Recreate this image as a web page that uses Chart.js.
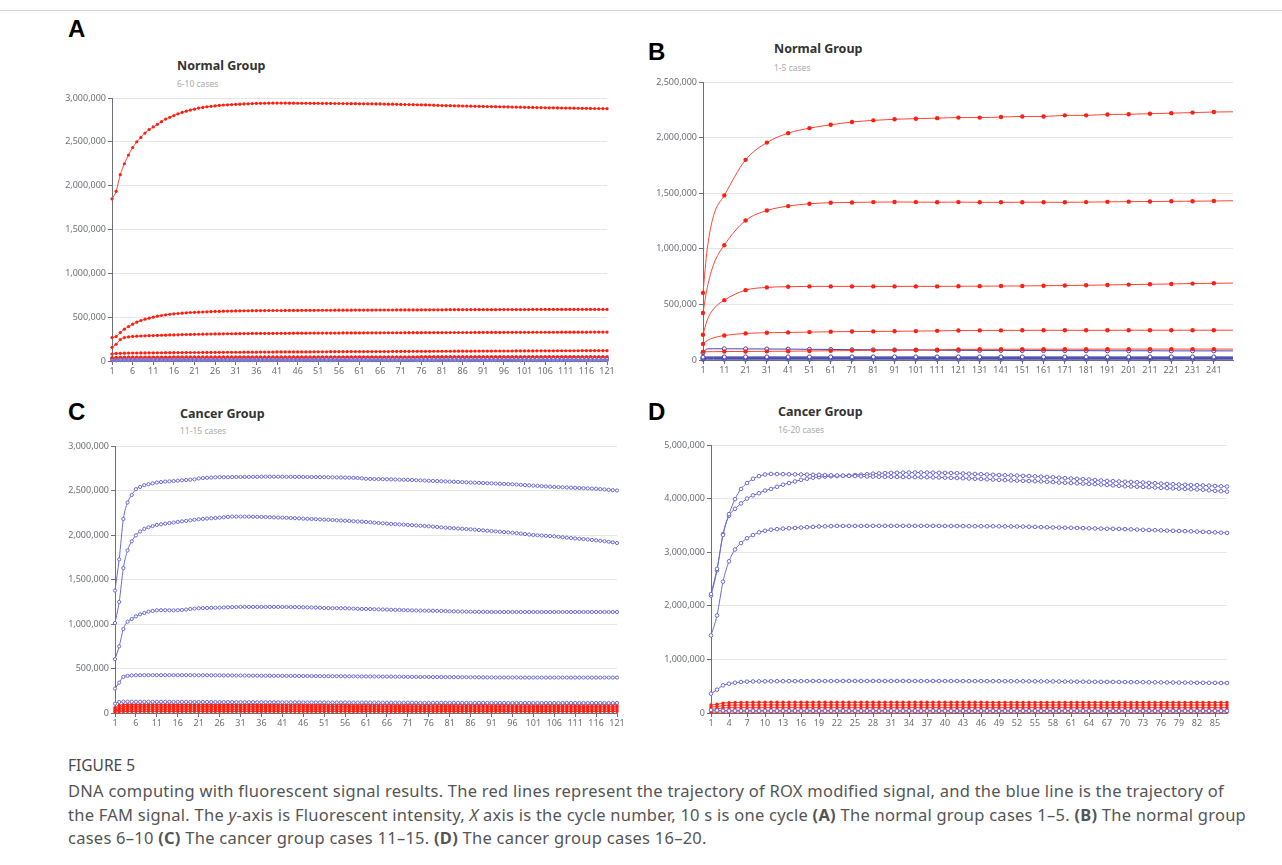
<!DOCTYPE html>
<html><head><meta charset="utf-8">
<script src="https://cdn.jsdelivr.net/npm/chart.js@4.4.1/dist/chart.umd.min.js"></script>
<style>
html,body{margin:0;padding:0;background:#fff;width:1282px;height:865px;overflow:hidden;font-family:"Noto Sans",sans-serif;}
.topline{position:absolute;left:0;top:10px;width:1282px;height:1px;background:#d6d6d6;}
canvas{position:absolute;}
.lbl{position:absolute;font-family:"Liberation Sans",Arial,sans-serif;font-weight:bold;font-size:24px;line-height:24px;color:#000;}
.ttl{position:absolute;font-weight:bold;font-size:12.5px;line-height:14px;color:#333;white-space:nowrap;}
.sub{position:absolute;font-size:8.5px;line-height:10px;color:#aaa;white-space:nowrap;}
.fig{position:absolute;left:68px;top:754px;font-size:15.5px;line-height:22px;color:#4a4a4a;}
.cap{position:absolute;left:68px;font-size:16.5px;line-height:20px;letter-spacing:0.25px;color:#555;white-space:nowrap;}
</style></head>
<body>
<div class="topline"></div>
<div class="lbl" style="left:68px;top:17px">A</div>
<div class="lbl" style="left:648px;top:40px">B</div>
<div class="lbl" style="left:68px;top:400px">C</div>
<div class="lbl" style="left:648px;top:400px">D</div>
<div class="ttl" style="left:177px;top:59px">Normal Group</div>
<div class="sub" style="left:177px;top:79px">6-10 cases</div>
<div class="ttl" style="left:774px;top:42px">Normal Group</div>
<div class="sub" style="left:774px;top:63px">1-5 cases</div>
<div class="ttl" style="left:180px;top:407px">Cancer Group</div>
<div class="sub" style="left:180px;top:426px">11-15 cases</div>
<div class="ttl" style="left:778px;top:405px">Cancer Group</div>
<div class="sub" style="left:778px;top:425px">16-20 cases</div>
<canvas id="cA"></canvas>
<canvas id="cB"></canvas>
<canvas id="cC"></canvas>
<canvas id="cD"></canvas>
<div class="fig">FIGURE 5</div>
<div class="cap" style="top:781px">DNA computing with fluorescent signal results. The red lines represent the trajectory of ROX modified signal, and the blue line is the trajectory of</div>
<div class="cap" style="top:805px">the FAM signal. The <i>y</i>-axis is Fluorescent intensity, <i>X</i> axis is the cycle number, 10 s is one cycle <b>(A)</b> The normal group cases 1–5. <b>(B)</b> The normal group</div>
<div class="cap" style="top:828px">cases 6–10 <b>(C)</b> The cancer group cases 11–15. <b>(D)</b> The cancer group cases 16–20.</div>
<script>
// ---- values are in thousands of fluorescence units ----
// Panel A (cycles 1..121)
const A_TICKS = [1,6,11,16,21,26,31,36,41,46,51,56,61,66,71,76,81,86,91,96,101,106,111,116,121];
const A_ROX1 = [1850,1935,2125,2250,2350,2435,2500,2550,2600,2640,
2670,2700,2730,2760,2780,2800,2820,2835,2850,2862,
2873,2885,2892,2900,2905,2910,2915,2920,2922,2925,
2928,2930,2932,2934,2936,2938,2939,2940,2941,2942,
2942,2942,2942,2941,2941,2940,2940,2940,2939,2939,
2939,2938,2938,2938,2937,2937,2936,2936,2935,2935,
2934,2934,2933,2933,2932,2932,2931,2930,2929,2928,
2927,2926,2925,2924,2923,2922,2921,2920,2918,2916,
2914,2913,2912,2911,2910,2909,2908,2907,2906,2905,
2904,2903,2902,2901,2900,2899,2898,2897,2896,2895,
2894,2893,2892,2891,2890,2889,2888,2888,2887,2886,
2885,2885,2884,2883,2882,2882,2881,2880,2880,2879,2878];
const A_ROX2 = [267,279,324,363,393,420,443,462,477,489,
500,511,519,527,533,538,542,546,550,553,
555,557,559,561,563,565,566,568,569,570,
571,572,573,573,574,574,575,575,576,576,
576,576,577,577,577,577,578,578,578,578,
579,579,579,579,580,580,580,580,580,581,
581,581,581,581,582,582,582,582,582,583,
583,583,583,583,583,584,584,584,584,584,
584,585,585,585,585,585,585,586,586,586,
586,586,586,586,587,587,587,587,587,587,
587,587,588,588,588,588,588,588,588,588,
588,588,588,588,588,588,588,588,588,588,588];
const A_ROX3 = [156,191,244,267,275,280,283,285,287,289,
290,292,294,295,297,298,299,301,302,303,
304,305,306,307,308,309,309,310,311,311,
312,312,313,313,314,314,314,315,315,315,
316,316,316,316,317,317,317,317,318,318,
318,318,319,319,319,319,320,320,320,320,
320,321,321,321,321,321,322,322,322,322,
322,323,323,323,323,323,324,324,324,324,
324,324,325,325,325,325,325,325,326,326,
326,326,326,326,326,327,327,327,327,327,
327,327,328,328,328,328,328,328,328,329,
329,329,329,329,329,329,330,330,330,330,330];
const A_ROX4 = [80,86,88,89,90,91,91,92,92,93,
93,94,94,95,95,95,96,96,96,97,
97,97,98,98,98,99,99,99,100,100,
100,100,101,101,101,101,102,102,102,102,
103,103,103,103,104,104,104,104,104,105,
105,105,105,106,106,106,106,106,107,107,
107,107,107,108,108,108,108,108,109,109,
109,109,109,110,110,110,110,110,111,111,
111,111,111,112,112,112,112,112,113,113,
113,113,113,114,114,114,114,114,115,115,
115,115,115,116,116,116,116,116,117,117,
117,117,117,117,118,118,118,118,118,118,118];
const A_ROX5 = [38,42,44,44,45,45,45,45,45,45,
45,45,45,45,45,46,46,46,46,46,
46,46,46,46,46,46,46,46,46,46,
47,47,47,47,47,47,47,47,47,47,
47,47,47,47,47,47,47,47,47,47,
48,48,48,48,48,48,48,48,48,48,
48,48,48,48,48,48,48,48,48,48,
48,48,48,48,48,49,49,49,49,49,
49,49,49,49,49,49,49,49,49,49,
49,49,49,49,49,49,49,49,49,49,
50,50,50,50,50,50,50,50,50,50,
50,50,50,50,50,50,50,50,50,50,50];
const A_FAM1 = [28,33,35,36,36,36,36,36,36,36,
36,36,36,36,36,36,36,36,36,36,
36,36,36,36,36,36,36,36,36,36,
36,36,36,36,36,36,36,36,36,36,
36,36,36,36,36,36,36,36,36,36,
36,36,35,35,35,35,35,35,35,35,
35,35,35,35,35,35,35,35,35,35,
35,35,35,35,35,35,35,35,35,35,
35,35,35,35,35,35,35,35,35,35,
34,34,34,34,34,34,34,34,34,34,
34,34,34,34,34,34,34,34,34,34,
34,34,34,34,34,34,34,34,34,34,34];
const A_FAM2 = [22,27,29,29,29,29,29,29,29,29,
29,29,29,29,29,29,29,29,29,29,
29,29,29,29,29,29,29,29,29,29,
29,29,29,29,29,29,29,29,29,29,
29,29,29,29,29,29,29,29,29,29,
29,29,29,29,29,28,28,28,28,28,
28,28,28,28,28,28,28,28,28,28,
28,28,28,28,28,28,28,28,28,28,
28,28,28,28,28,28,28,28,28,28,
28,28,28,28,28,28,28,28,28,28,
27,27,27,27,27,27,27,27,27,27,
27,27,27,27,27,27,27,27,27,27,27];
const A_FAM3 = [16,20,22,22,22,22,22,22,22,22,
22,22,22,22,22,22,22,22,22,22,
22,22,22,22,22,22,22,22,22,22,
22,22,22,22,22,22,22,22,22,22,
22,22,22,22,22,22,22,22,22,22,
22,22,22,22,22,22,22,22,21,21,
21,21,21,21,21,21,21,21,21,21,
21,21,21,21,21,21,21,21,21,21,
21,21,21,21,21,21,21,21,21,21,
21,21,21,21,21,21,21,21,21,21,
21,21,21,21,21,21,21,21,21,21,
21,21,21,21,21,21,21,21,21,21,21];
const A_FAM4 = [11,13,15,15,15,15,15,15,15,15,
15,15,15,15,15,15,15,15,15,15,
15,15,15,15,15,15,15,15,15,15,
15,15,15,15,15,15,15,15,15,15,
15,15,15,15,15,15,15,15,15,15,
15,15,15,15,15,15,15,15,15,15,
14,14,14,14,14,14,14,14,14,14,
14,14,14,14,14,14,14,14,14,14,
14,14,14,14,14,14,14,14,14,14,
14,14,14,14,14,14,14,14,14,14,
14,14,14,14,14,14,14,14,14,14,
14,14,14,14,14,14,14,14,14,14,14];
const A_FAM5 = [6,7,8,8,8,8,8,8,8,8,
8,8,8,8,8,8,8,8,8,8,
8,8,8,8,8,8,8,8,8,8,
8,8,8,8,8,8,8,8,8,8,
8,8,8,8,8,8,8,8,8,8,
8,8,8,8,8,8,8,8,8,8,
8,8,8,8,8,8,8,8,8,8,
8,8,8,8,8,8,8,8,8,8,
8,8,8,8,8,8,8,8,8,8,
8,8,8,8,8,8,8,8,8,8,
8,8,8,8,8,8,8,8,8,8,
8,8,8,8,8,8,8,8,8,8,8];

// Panel B (sampled cycles; dots at every 10th cycle)
const B_TICKS = [1,11,21,31,41,51,61,71,81,91,101,111,121,131,141,151,161,171,181,191,201,211,221,231,241];
const B_CYCLES = [1,3,6,11,21,31,41,51,61,71,81,91,101,111,121,131,141,151,161,171,181,191,201,211,221,231,241,250];
const B_ROX1 = [604,1000,1300,1480,1800,1955,2040,2085,2115,2140,2155,2165,2170,2175,2180,2180,2185,2190,2190,2200,2200,2208,2210,2215,2220,2225,2230,2232];
const B_ROX2 = [423,650,860,1033,1254,1344,1384,1405,1414,1417,1420,1421,1420,1419,1420,1418,1418,1419,1419,1418,1420,1422,1424,1425,1427,1428,1430,1432];
const B_ROX3 = [227,360,460,538,628,653,659,662,662,662,662,662,662,662,663,664,665,666,668,670,672,675,678,681,684,687,690,692];
const B_ROX4 = [145,175,200,220,239,245,248,251,254,256,257,258,260,262,265,266,266,267,267,267,267,267,268,268,268,268,268,268];
const B_ROX5 = [75,75,75,76,77,78,79,81,83,85,87,88,90,92,95,96,96,97,97,97,97,98,98,98,98,98,98,98];
const B_FAM1 = [65,100,101,101,100,99,98,96,95,93,92,91,90,88,87,86,86,85,85,84,84,83,83,83,82,82,82,82];
const B_FAM2 = [26,28,28,28,28,28,28,28,28,28,28,28,28,28,28,28,28,28,28,28,28,28,28,28,28,28,28,28];
const B_FAM3 = [19,21,21,21,21,21,21,21,21,21,21,21,21,21,21,21,21,21,21,21,21,21,21,21,21,21,21,21];
const B_FAM4 = [13,14,14,14,14,14,14,14,14,14,14,14,14,14,14,14,14,14,14,14,14,14,14,14,14,14,14,14];
const B_FAM5 = [6,7,7,7,7,7,7,7,7,7,7,7,7,7,7,7,7,7,7,7,7,7,7,7,7,7,7,7];

// Panel C (cycles 1..121)
const C_TICKS = [1,6,11,16,21,26,31,36,41,46,51,56,61,66,71,76,81,86,91,96,101,106,111,116,121];
const C_FAM1 = [1376,1726,2180,2365,2450,2515,2540,2560,2570,2580,
2590,2595,2600,2603,2606,2610,2614,2618,2622,2625,
2635,2640,2643,2645,2648,2650,2650,2650,2651,2652,
2652,2653,2653,2654,2654,2655,2655,2655,2655,2655,
2655,2654,2654,2653,2653,2652,2652,2651,2651,2650,
2650,2649,2648,2647,2646,2645,2644,2642,2640,2637,
2632,2630,2629,2628,2627,2626,2625,2624,2622,2621,
2620,2618,2616,2614,2612,2610,2608,2606,2604,2602,
2600,2598,2596,2594,2592,2590,2588,2586,2584,2582,
2580,2578,2576,2574,2572,2570,2567,2564,2561,2558,
2555,2552,2549,2546,2543,2540,2538,2536,2534,2532,
2530,2528,2526,2524,2522,2520,2516,2512,2508,2504,2500];
const C_FAM2 = [1011,1248,1628,1827,1929,1996,2040,2068,2086,2100,
2113,2120,2128,2134,2140,2147,2153,2159,2165,2171,
2177,2181,2185,2188,2191,2195,2199,2203,2207,2207,
2207,2207,2206,2205,2204,2203,2202,2200,2198,2196,
2195,2193,2191,2189,2187,2184,2182,2180,2178,2175,
2173,2171,2168,2166,2163,2160,2158,2155,2152,2150,
2147,2143,2139,2135,2131,2128,2125,2122,2119,2116,
2113,2110,2107,2104,2101,2098,2094,2090,2086,2082,
2079,2076,2073,2070,2067,2064,2060,2056,2052,2048,
2045,2041,2037,2033,2029,2026,2021,2016,2011,2005,
2000,1997,1994,1991,1988,1985,1980,1975,1970,1966,
1962,1958,1954,1950,1945,1940,1935,1930,1924,1918,1910];
const C_FAM3 = [605,748,944,1026,1056,1086,1109,1124,1139,1147,
1154,1155,1155,1154,1153,1155,1158,1162,1169,1173,
1177,1179,1180,1182,1183,1184,1186,1188,1190,1191,
1192,1192,1192,1192,1192,1192,1192,1192,1192,1192,
1192,1191,1191,1190,1189,1188,1187,1186,1185,1183,
1180,1179,1178,1178,1177,1177,1175,1173,1171,1169,
1169,1168,1166,1164,1163,1162,1160,1159,1158,1156,
1154,1153,1152,1151,1150,1150,1149,1148,1147,1145,
1143,1142,1141,1140,1139,1138,1137,1137,1136,1136,
1135,1135,1135,1135,1135,1135,1135,1135,1135,1135,
1135,1135,1135,1135,1135,1135,1135,1135,1135,1135,
1135,1135,1135,1135,1135,1135,1135,1135,1135,1135,1135];
const C_FAM4 = [274,342,406,417,422,424,425,425,425,425,
425,425,425,425,425,425,425,425,425,425,
424,424,424,423,423,423,422,422,422,421,
421,421,420,420,420,419,419,419,418,418,
418,417,417,417,416,416,416,415,415,414,
414,414,413,413,413,412,412,412,411,411,
411,410,410,410,409,409,409,408,408,407,
406,406,406,405,405,405,404,404,404,403,
403,403,402,402,402,401,401,401,400,400,
400,399,399,399,399,399,399,398,398,398,
398,398,398,398,398,398,398,398,398,398,
398,398,398,398,398,398,398,398,398,398,398];
const C_FAM5 = [105,124,128,128,127,127,127,127,127,126,
126,126,126,126,125,125,125,125,125,124,
124,124,124,124,123,123,123,123,123,122,
122,122,122,122,121,121,121,121,121,120,
120,120,120,120,120,119,119,119,119,119,
119,118,118,118,118,118,118,117,117,117,
117,117,117,117,116,116,116,116,116,116,
116,116,115,115,115,115,115,115,115,115,
115,115,114,114,114,114,114,114,114,114,
114,114,114,114,113,113,113,113,113,113,
113,113,113,113,113,113,113,113,113,113,
113,113,113,113,113,113,113,113,113,113,113];
const C_ROX1 = [62,86,93,96,97,97,97,97,97,97,
97,97,97,97,97,97,97,97,97,97,
97,97,97,97,97,97,97,97,97,97,
97,97,97,97,97,97,97,97,97,97,
97,97,97,97,97,96,96,96,96,96,
96,96,96,96,96,96,96,96,96,96,
96,96,96,96,96,96,96,96,96,96,
96,96,96,96,96,96,96,96,96,96,
95,95,95,95,95,95,95,95,95,95,
95,95,95,95,95,95,95,95,95,95,
95,95,95,95,95,95,95,95,95,95,
95,95,95,95,95,95,95,95,95,95,95];
const C_ROX2 = [46,66,73,76,77,77,77,77,77,77,
77,77,77,77,77,77,77,77,77,77,
77,77,77,77,77,77,77,77,77,77,
77,77,77,77,77,77,77,77,77,77,
77,77,77,77,77,77,77,77,77,77,
76,76,76,76,76,76,76,76,76,76,
76,76,76,76,76,76,76,76,76,76,
76,76,76,76,76,76,76,76,76,76,
76,76,76,76,76,76,76,76,76,76,
75,75,75,75,75,75,75,75,75,75,
75,75,75,75,75,75,75,75,75,75,
75,75,75,75,75,75,75,75,75,75,75];
const C_ROX3 = [34,48,54,56,57,57,57,57,57,57,
57,57,57,57,57,57,57,57,57,57,
57,57,57,57,57,57,57,57,57,57,
57,57,57,57,57,57,57,57,57,57,
57,57,57,57,57,57,57,57,57,57,
57,57,57,57,57,57,57,57,57,57,
56,56,56,56,56,56,56,56,56,56,
56,56,56,56,56,56,56,56,56,56,
56,56,56,56,56,56,56,56,56,56,
56,56,56,56,56,56,56,56,56,56,
56,56,56,56,56,56,56,56,56,56,
56,56,56,56,56,56,56,56,56,56,56];
const C_ROX4 = [22,31,35,36,37,37,37,37,37,37,
37,37,37,37,37,37,37,37,37,37,
37,37,37,37,37,37,37,37,37,37,
37,37,37,37,37,37,37,37,37,37,
37,37,37,37,37,37,37,37,37,37,
37,37,37,37,37,37,37,37,37,37,
37,37,37,37,37,37,37,37,37,37,
37,37,37,37,37,37,37,37,37,37,
36,36,36,36,36,36,36,36,36,36,
36,36,36,36,36,36,36,36,36,36,
36,36,36,36,36,36,36,36,36,36,
36,36,36,36,36,36,36,36,36,36,36];
const C_ROX5 = [10,14,16,17,17,17,17,17,17,17,
17,17,17,17,17,17,17,17,17,17,
17,17,17,17,17,17,17,17,17,17,
17,17,17,17,17,17,17,17,17,17,
17,17,17,17,17,17,17,17,17,17,
17,17,17,17,17,17,17,17,17,17,
17,17,17,17,17,17,17,17,17,17,
17,17,17,17,17,17,17,17,17,17,
17,17,17,17,17,17,17,17,17,17,
17,17,17,17,17,17,17,17,17,17,
17,17,17,17,17,17,17,17,17,17,
17,17,17,17,17,17,17,17,17,17,17];

// Panel D (cycles 1..87)
const D_TICKS = [1,4,7,10,13,16,19,22,25,28,31,34,37,40,43,46,49,52,55,58,61,64,67,70,73,76,79,82,85];
const D_FAM1 = [2220,2690,3320,3710,3990,4180,4290,4370,4420,4450,
4460,4458,4456,4454,4452,4450,4448,4446,4444,4440,
4436,4432,4428,4424,4420,4416,4412,4410,4408,4406,
4405,4404,4402,4401,4400,4399,4398,4396,4394,4390,
4387,4384,4380,4375,4370,4365,4360,4355,4350,4345,
4340,4336,4332,4328,4324,4320,4314,4307,4300,4295,
4290,4285,4280,4275,4270,4262,4254,4246,4238,4230,
4226,4222,4218,4212,4206,4200,4195,4190,4185,4180,
4175,4170,4165,4155,4145,4138,4130];
const D_FAM2 = [2190,2660,3340,3680,3810,3910,4000,4060,4100,4150,
4180,4220,4260,4290,4320,4350,4370,4390,4400,4410,
4415,4420,4425,4430,4440,4447,4455,4465,4470,4475,
4480,4482,4484,4486,4487,4487,4486,4484,4482,4480,
4477,4473,4468,4464,4460,4455,4450,4445,4440,4435,
4432,4430,4425,4420,4415,4410,4404,4398,4390,4382,
4375,4368,4362,4355,4347,4338,4330,4325,4320,4315,
4310,4305,4300,4294,4287,4280,4274,4268,4262,4258,
4254,4250,4246,4242,4236,4230,4225];
const D_FAM3 = [1447,1820,2450,2830,3050,3170,3260,3320,3370,3400,
3420,3430,3440,3447,3453,3460,3467,3473,3480,3483,
3486,3490,3490,3490,3490,3490,3491,3492,3492,3492,
3492,3492,3492,3492,3492,3492,3492,3492,3491,3490,
3489,3488,3487,3486,3485,3485,3484,3484,3483,3482,
3481,3480,3478,3475,3472,3468,3465,3462,3460,3457,
3455,3452,3449,3446,3443,3440,3438,3436,3434,3430,
3426,3422,3418,3414,3410,3407,3403,3400,3396,3393,
3389,3385,3380,3375,3370,3365,3360];
const D_FAM4 = [360,435,516,547,565,578,585,588,590,591,
592,593,593,594,594,595,595,596,596,596,
596,596,597,597,597,597,597,597,597,597,
597,597,597,597,597,596,596,596,596,596,
596,596,595,595,595,595,594,594,594,593,
593,592,592,591,591,590,590,589,588,587,
586,585,584,583,582,581,580,579,578,577,
576,575,574,573,572,571,570,569,568,567,
566,565,564,563,562,560,559];
const D_FAM5 = [55,48,44,43,42,42,42,42,42,42,
42,42,42,42,42,42,42,42,42,42,
42,42,42,42,42,42,42,42,42,42,
42,42,42,42,42,42,42,42,42,42,
41,41,41,41,41,41,41,41,41,41,
41,41,41,41,41,41,41,41,41,41,
41,41,41,41,41,41,41,41,41,41,
40,40,40,40,40,40,40,40,40,40,
40,40,40,40,40,40,40];
const D_ROX1 = [150,162,185,192,196,198,199,200,200,200,
200,200,200,200,200,200,200,200,200,200,
200,200,200,200,200,200,200,200,200,200,
200,200,200,200,200,200,200,200,200,200,
200,200,200,200,200,200,199,199,199,199,
199,199,199,199,199,199,199,199,199,199,
199,199,199,199,199,199,198,198,198,198,
198,198,198,198,198,198,198,198,198,198,
198,198,198,198,198,198,198];
const D_ROX2 = [110,120,140,146,148,149,150,150,150,150,
150,150,150,150,150,150,150,150,150,150,
150,150,150,150,150,150,150,150,150,150,
150,150,150,150,150,150,150,150,150,150,
150,150,150,150,150,150,150,150,150,150,
150,150,150,150,150,150,150,150,150,150,
149,149,149,149,149,149,149,149,149,149,
149,149,149,149,149,149,149,149,149,149,
149,149,149,149,149,149,149];
const D_ROX3 = [70,80,94,98,99,100,100,100,100,100,
100,100,100,100,100,100,100,100,100,100,
100,100,100,100,100,100,100,100,100,100,
100,100,100,100,100,100,100,100,100,100,
100,100,100,100,100,100,100,100,100,100,
100,100,100,100,100,100,100,100,100,100,
100,100,100,100,100,100,100,100,100,100,
99,99,99,99,99,99,99,99,99,99,
99,99,99,99,99,99,99];
const D_ROX4 = [40,45,49,51,52,52,52,52,52,52,
52,52,52,52,52,52,52,52,52,52,
52,52,52,52,52,52,52,52,52,52,
52,52,52,52,52,52,52,52,52,52,
52,52,52,52,52,52,52,52,52,52,
52,52,52,52,52,52,52,52,52,52,
52,52,52,52,52,52,52,52,52,52,
52,52,52,52,52,52,52,52,52,52,
52,52,52,52,52,52,52];
const D_ROX5 = [16,18,19,20,20,20,20,20,20,20,
20,20,20,20,20,20,20,20,20,20,
20,20,20,20,20,20,20,20,20,20,
20,20,20,20,20,20,20,20,20,20,
20,20,20,20,20,20,20,20,20,20,
20,20,20,20,20,20,20,20,20,20,
20,20,20,20,20,20,20,20,20,20,
20,20,20,20,20,20,20,20,20,20,
20,20,20,20,20,20,20];

// ---- drawing ----
const K = 1000;
const RED = '#ff1f10', RED_LINE = '#ff4636', BLUE = '#6b6bd3', BLUE_DARK = '#4545b0';
const AXIS = '#6e7079', GRID = '#e6e6e6';
const Y_W = 62, X_H = 22, PAD_T = 10, PAD_R = 14;

function seqPts(vals){ return vals.map((v,i)=>({x:i+1, y:v*K})); }
function cyclePts(vals, cycles){ return vals.map((v,i)=>({x:cycles[i], y:v*K})); }

function ds(points, rox, radius, blue){
  const b = blue || BLUE;
  return {data:points, borderColor: rox?RED_LINE:b, borderWidth:1,
    pointRadius:radius, pointBackgroundColor: rox?RED:'#ffffff',
    pointBorderColor: rox?RED:b, pointBorderWidth: rox?0:1,
    cubicInterpolationMode:'monotone', clip:false, fill:false};
}

function makeChart(id, g, datasets, xMax, xTicks, yMax, yStep){
  const cv = document.getElementById(id);
  const w = (g.R-g.L) + Y_W + PAD_R, h = (g.B-g.T) + PAD_T + X_H;
  cv.width = w; cv.height = h;
  cv.style.left = (g.L - Y_W) + 'px'; cv.style.top = (g.T - PAD_T) + 'px';
  cv.style.width = w + 'px'; cv.style.height = h + 'px';
  return new Chart(cv, {
    type:'line',
    data:{datasets},
    options:{
      responsive:false, animation:false, devicePixelRatio:1,
      layout:{padding:{top:PAD_T,right:PAD_R,left:0,bottom:0}},
      plugins:{legend:{display:false},tooltip:{enabled:false},title:{display:false}},
      elements:{point:{hoverRadius:0}},
      scales:{
        x:{type:'linear',min:1,max:xMax,
          afterBuildTicks:a=>{a.ticks = xTicks.map(v=>({value:v}));},
          afterFit:s=>{s.height = X_H;},
          grid:{drawOnChartArea:false,drawTicks:true,tickLength:4,tickColor:AXIS},
          border:{display:true,color:AXIS,width:1},
          ticks:{autoSkip:false,maxRotation:0,padding:1,color:AXIS,font:{family:'Noto Sans',size:9},callback:v=>String(v)}},
        y:{type:'linear',min:0,max:yMax,
          afterFit:s=>{s.width = Y_W;},
          grid:{color:GRID,drawTicks:true,tickLength:4,tickColor:AXIS},
          border:{display:true,color:AXIS,width:1},
          ticks:{stepSize:yStep,padding:2,color:AXIS,font:{family:'Noto Sans',size:9},callback:v=>v.toLocaleString('en-US')}}
      }
    }
  });
}

// Panel A
makeChart('cA', {L:112,R:607,T:98,B:361}, [
  ...[A_ROX1,A_ROX2,A_ROX3,A_ROX4,A_ROX5].map(a=>ds(seqPts(a),true,1.6)),
  ...[A_FAM1,A_FAM2,A_FAM3,A_FAM4,A_FAM5].map(a=>ds(seqPts(a),false,1.5))
], 121, A_TICKS, 3000000, 500000);

// Panel B (dots only at every 10th cycle)
const bRadius = r => (ctx => (ctx.raw && (ctx.raw.x-1)%10===0) ? r : 0);
makeChart('cB', {L:703,R:1233,T:82,B:360}, [
  ...[B_ROX1,B_ROX2,B_ROX3,B_ROX4,B_ROX5].map(a=>ds(cyclePts(a,B_CYCLES),true,bRadius(2.2))),
  ...[B_FAM1,B_FAM2,B_FAM3,B_FAM4,B_FAM5].map(a=>ds(cyclePts(a,B_CYCLES),false,bRadius(2),BLUE_DARK))
], 250, B_TICKS, 2500000, 500000);

// Panel C
makeChart('cC', {L:115,R:617,T:446,B:713}, [
  ...[C_FAM1,C_FAM2,C_FAM3,C_FAM4,C_FAM5].map(a=>ds(seqPts(a),false,1.6)),
  ...[C_ROX1,C_ROX2,C_ROX3,C_ROX4,C_ROX5].map(a=>ds(seqPts(a),true,1.6))
], 121, C_TICKS, 3000000, 500000);

// Panel D
makeChart('cD', {L:711,R:1227,T:445,B:713}, [
  ...[D_FAM1,D_FAM2,D_FAM3,D_FAM4,D_FAM5].map(a=>ds(seqPts(a),false,1.8)),
  ...[D_ROX1,D_ROX2,D_ROX3,D_ROX4,D_ROX5].map(a=>ds(seqPts(a),true,1.7))
], 87, D_TICKS, 5000000, 1000000);
</script>
</body></html>
